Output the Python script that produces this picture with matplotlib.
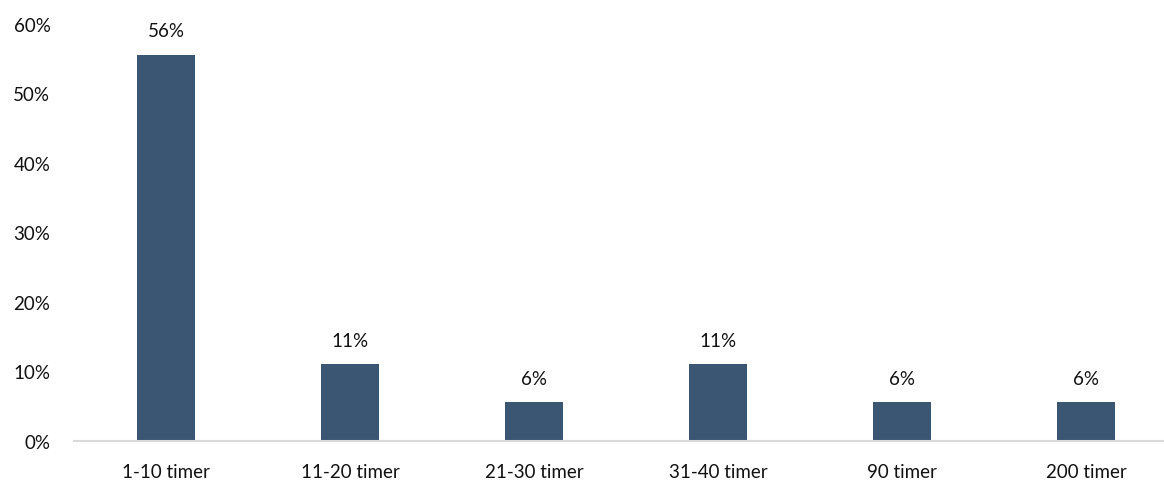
import numpy as np
import matplotlib
matplotlib.use("Agg")
import matplotlib.pyplot as plt

categories = ["1-10 timer", "11-20 timer", "21-30 timer", "31-40 timer", "90 timer", "200 timer"]
values = [55.6, 11.1, 5.6, 11.1, 5.6, 5.6]
labels = ["56%", "11%", "6%", "11%", "6%", "6%"]
yticks = [0, 10, 20, 30, 40, 50, 60]

plt.rcParams['font.family'] = ['Lato', 'DejaVu Sans']

W, H = 1164, 485
fig = plt.figure(figsize=(W / 100, H / 100), dpi=100)
ax = fig.add_axes([74 / W, 1 - 442 / H, (W - 74) / W, (442 - 25) / H])

x = np.arange(len(categories))
bars = ax.bar(x, values, width=0.315, color="#3B5673")

for xi, v, lab in zip(x, values, labels):
    ax.annotate(lab, (xi, v), xytext=(0, 11), textcoords="offset points",
                ha="center", va="bottom", fontsize=13.5, color="#111111")

ax.set_xlim(-0.5, -0.5 + (W - 74) / 184)
ax.set_ylim(0, 60)
ax.set_yticks(yticks)
ax.set_yticklabels([f"{t}%" for t in yticks])
ax.set_xticks(x)
ax.set_xticklabels(categories)

for s in ["top", "right", "left"]:
    ax.spines[s].set_visible(False)
ax.spines["bottom"].set_color("#D9D9D9")
ax.spines["bottom"].set_linewidth(1.5)
ax.tick_params(axis="y", length=0, pad=17, labelsize=13.5, labelcolor="#111111")
ax.tick_params(axis="x", length=0, pad=16, labelsize=13.5, labelcolor="#111111")

fig.savefig("out.png", dpi=100)
